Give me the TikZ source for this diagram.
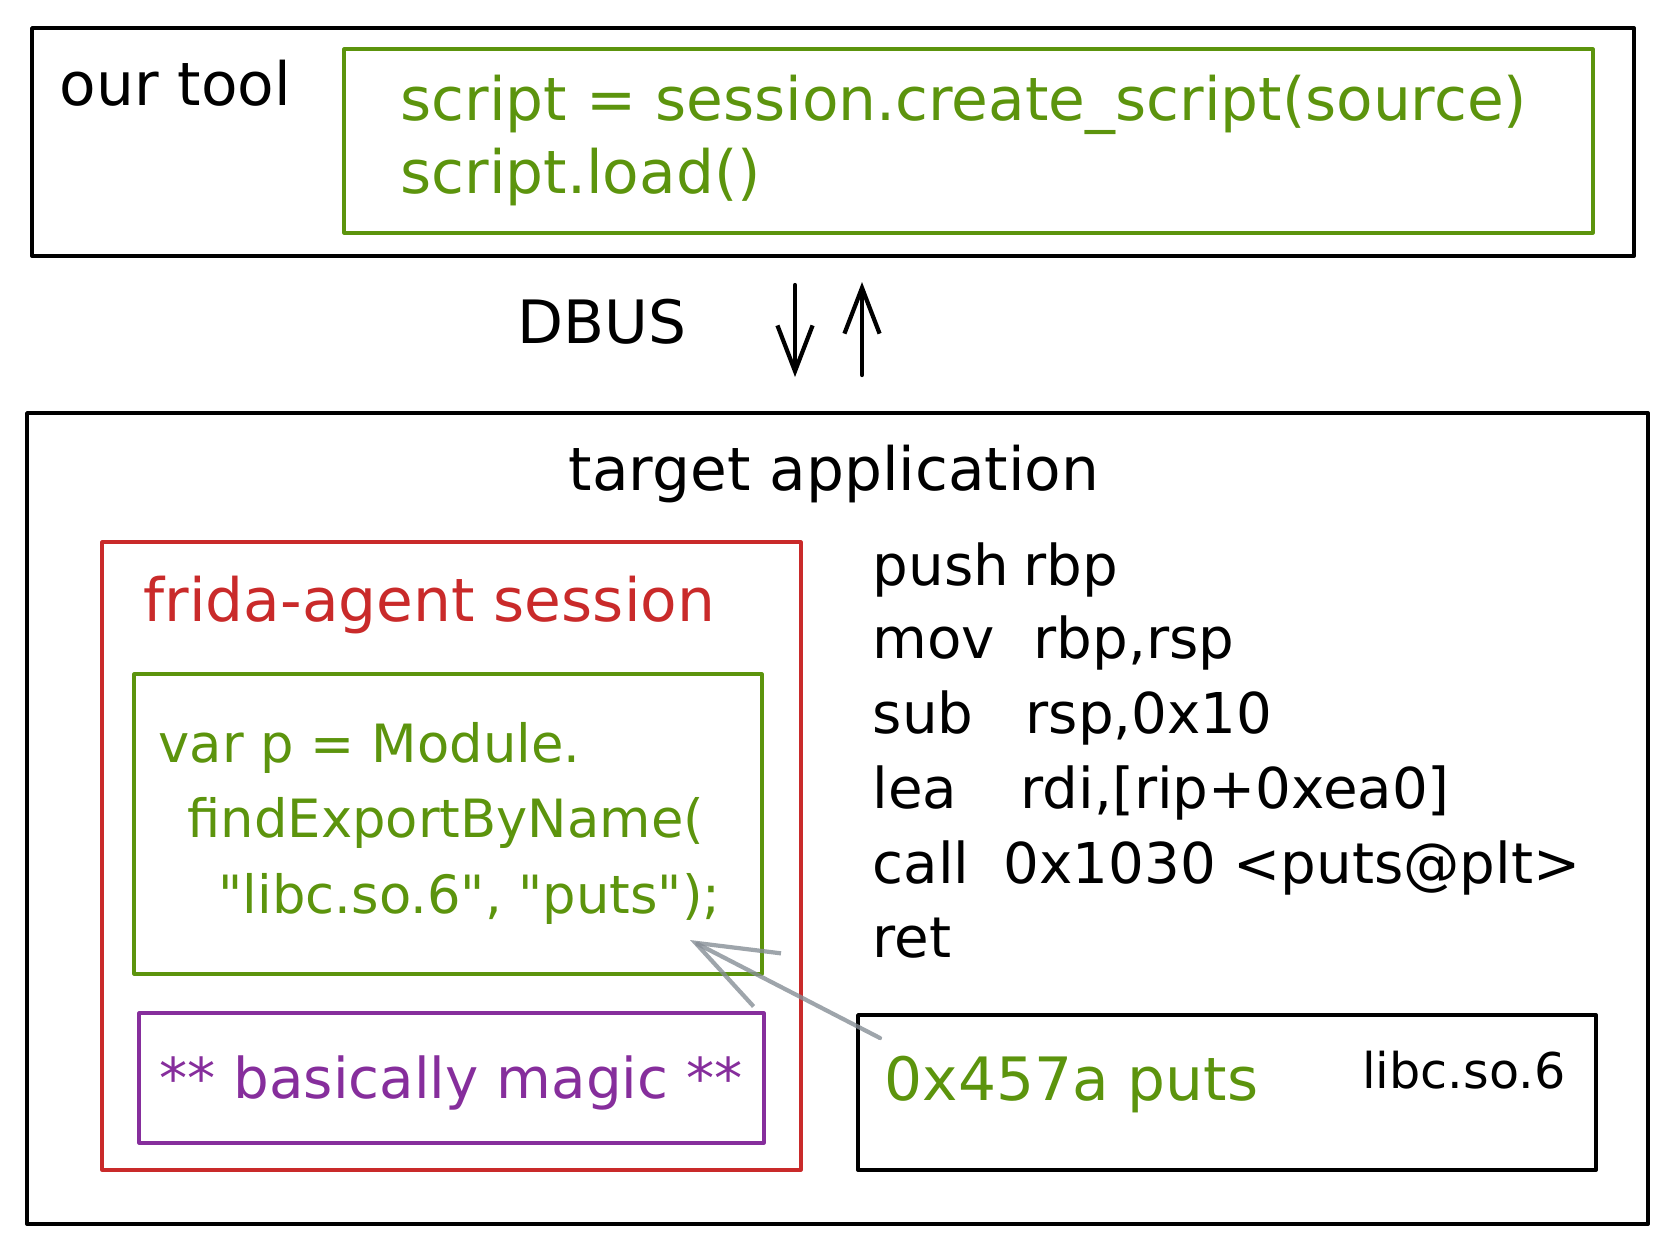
\documentclass[tikz,border=0pt]{standalone}
\usepackage{fontspec}
\setmainfont{DejaVu Sans}[Ligatures=TeXOff]
\usetikzlibrary{arrows.meta}

\definecolor{hgreen}{HTML}{5C940D}
\definecolor{hred}{HTML}{C92A2A}
\definecolor{hpurple}{HTML}{862E9C}
\definecolor{hgray}{HTML}{868E96}

\begin{document}
\begin{tikzpicture}[x=0.01cm, y=-0.01cm, line cap=round, line join=round,
    box/.style={line width=1.1pt},
    thinbox/.style={line width=0.9pt},
    txt/.style={anchor=base west, inner sep=0pt, font=\fontsize{17}{20}\selectfont},
    asmtxt/.style={txt, font=\fontsize{16}{19}\selectfont},
    codetxt/.style={txt, text=hgreen, font=\fontsize{15}{18}\selectfont},
    flow/.style={line width=1.2pt, -{Straight Barb[length=13pt, width=10pt]}},
    pointer/.style={hgray, opacity=0.8, line width=1.2pt, -{Straight Barb[length=23pt, width=17pt]}}]
    \useasboundingbox (0,0) rectangle (1680,1256);

    % our tool
    \draw[box] (32,28) rectangle (1634,256);
    \draw[thinbox, hgreen] (344,49) rectangle (1593,233);
    \node[txt] (ourtool) at (59,105) {our tool};
    \node[txt, text=hgreen] (scriptA) at (400,120) {script = session.create\_script(source)};
    \node[txt, text=hgreen] (scriptB) at (400,193) {script.load()};

    % DBUS
    \node[txt] (dbus) at (517,343) {DBUS};
    \coordinate (downA) at (795,285);
    \coordinate (downB) at (795,377);
    \coordinate (upA) at (862,375);
    \coordinate (upB) at (862,282);
    \draw[flow] (downA) -- (downB);
    \draw[flow] (upA) -- (upB);

    % target application
    \draw[box] (27,413) rectangle (1648,1224);
    \node[txt] (target) at (568,490) {target application};

    % frida-agent session
    \draw[thinbox, hred] (102,542) rectangle (801,1170);
    \node[txt, text=hred] (session) at (143,621) {frida-agent session};
    \draw[thinbox, hgreen] (134,674) rectangle (762,974);
    \node[codetxt] (codeA) at (158,762) {var p = Module.};
    \node[codetxt] (codeB) at (187,837) {findExportByName(};
    \node[codetxt] (codeC) at (218,913) {"libc.so.6", "puts");};
    \draw[thinbox, hpurple] (139,1013) rectangle (764,1143);
    \node[txt, anchor=base, text=hpurple, font=\fontsize{16}{19}\selectfont] (magic) at (451,1098) {** basically magic **};

    % 逆アセンブル
    \foreach \y/\ax/\op/\arg [count=\i] in {585/1023/push/rbp, 658/1033/mov/{rbp,rsp},
        733/1025/sub/{rsp,0x10}, 808/1020/lea/{rdi,[rip+0xea0]}, 883/1003/call/{0x1030 <puts@plt>}} {
        \node[asmtxt] (op\i) at (872,\y) {\op};
        \node[asmtxt] (arg\i) at (\ax,\y) {\arg};
    }
    \node[asmtxt] (op6) at (872,957) {ret};

    % libc
    \draw[box] (858,1015) rectangle (1596,1170);
    \node[txt, text=hgreen] (addr) at (884,1100) {0x457a puts};
    \node[txt, anchor=base east, font=\fontsize{14}{17}\selectfont] (libc) at (1566,1088) {libc.so.6};

    % 矢印
    \coordinate (ptrTail) at (880,1038);
    \coordinate (ptrTip) at (690,940);
    \draw[pointer] (ptrTail) -- (ptrTip);
\end{tikzpicture}
\end{document}
